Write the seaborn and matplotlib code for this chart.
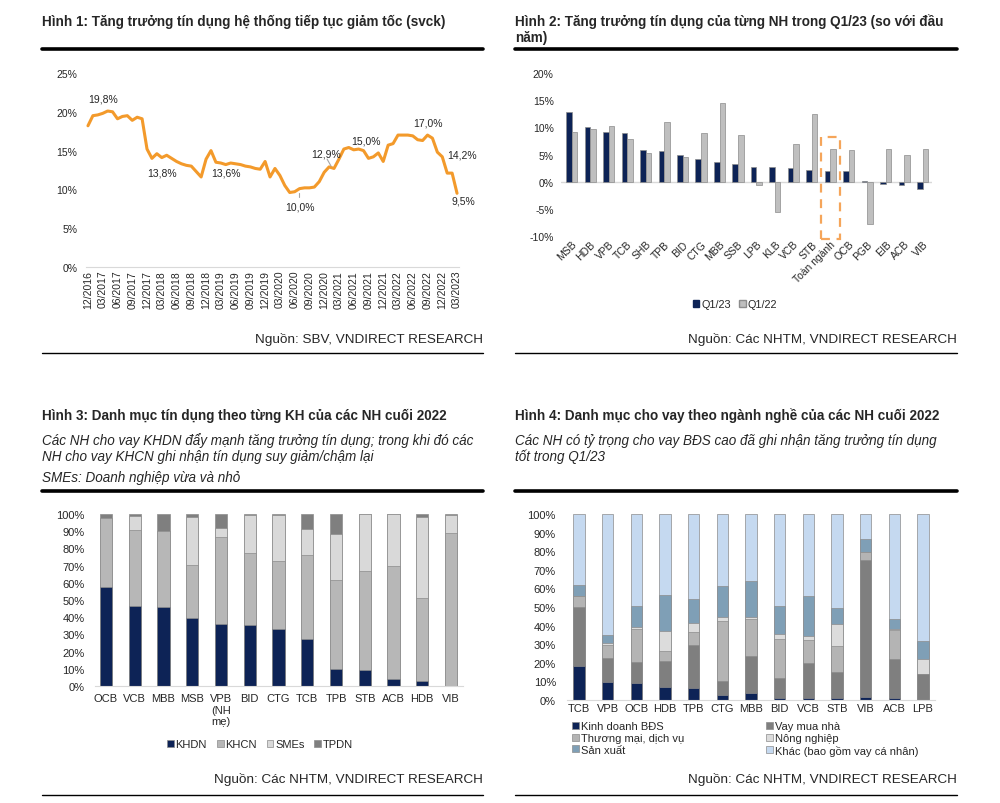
import numpy as np
import pandas as pd
import matplotlib
matplotlib.use("Agg")
import matplotlib.pyplot as plt
import seaborn as sns
from matplotlib.patches import Patch, Rectangle
from matplotlib.lines import Line2D

sns.set_style("white")
plt.rcParams["font.family"] = ["Liberation Sans", "DejaVu Sans"]

# ---- data: Hinh 1 (monthly, 12/2016 .. 03/2023)
credit_growth = [
    18.2,
    19.5, 19.6, 19.8, 20.1, 20.0, 19.1, 19.4, 19.5, 18.9, 19.3, 19.1, 15.2,
    14.0, 14.6, 14.1, 14.4, 14.0, 13.6, 13.3, 13.1, 13.0, 12.3, 11.6, 13.9,
    15.0, 13.5, 13.4, 13.2, 13.4, 13.3, 13.2, 13.0, 12.9, 12.7, 12.6, 13.6,
    11.6, 12.7, 11.8, 10.5, 9.6, 9.7, 10.1, 10.2, 10.2, 10.3, 11.0, 12.2,
    12.9, 12.7, 13.9, 15.2, 15.4, 15.1, 15.2, 15.0, 14.0, 14.2, 14.7, 13.6,
    15.7, 15.9, 17.0, 17.0, 17.0, 16.9, 16.4, 16.3, 17.0, 16.6, 14.8, 14.2,
    12.1, 12.1, 9.5,
]
month_labels = []
for i in range(len(credit_growth)):
    m = (12 + i - 1) % 12 + 1
    y = 2016 + (12 + i - 1) // 12
    month_labels.append(f"{m:02d}/{y}")
point_labels = ["19,8%", "13,8%", "13,6%", "10,0%", "12,9%", "15,0%", "17,0%", "14,2%", "9,5%"]
label_pos = [(3.0, 21.7), (15.1, 12.2), (28.0, 12.2), (43.0, 7.85), (48.4, 14.6),
             (56.5, 16.3), (69.1, 18.65), (76.0, 14.5), (76.2, 8.6)]

# ---- data: Hinh 2
banks2 = ["MSB", "HDB", "VPB", "TCB", "SHB", "TPB", "BID", "CTG", "MBB", "SSB", "LPB",
          "KLB", "VCB", "STB", "Toàn ngành", "OCB", "PGB", "EIB", "ACB", "VIB"]
q1_23 = [12.9, 10.1, 9.2, 8.9, 5.8, 5.7, 4.9, 4.1, 3.7, 3.2, 2.7, 2.7, 2.5, 2.1, 2.0, 2.0, 0.2, -0.4, -0.6, -1.3]
q1_22 = [9.2, 9.7, 10.2, 7.9, 5.3, 11.0, 4.6, 9.0, 14.4, 8.6, -0.6, -5.5, 6.9, 12.4, 6.0, 5.8, -7.7, 6.0, 5.0, 6.1]

# ---- data: Hinh 3
banks3 = ["OCB", "VCB", "MBB", "MSB", "VPB\n(NH\nmẹ)", "BID", "CTG", "TCB", "TPB", "STB", "ACB", "HDB", "VIB"]
khdn = [57.5, 46.8, 45.8, 39.8, 36.0, 35.2, 33.1, 27.1, 9.9, 9.1, 4.1, 2.9, 0.0]
khcn = [40.0, 44.1, 44.5, 30.6, 50.5, 42.0, 39.4, 49.1, 51.6, 57.6, 65.9, 48.2, 89.2]
smes = [0.0, 8.1, 0.0, 28.1, 5.4, 22.2, 27.1, 15.1, 26.7, 33.3, 30.0, 47.2, 10.2]
tpdn = [2.5, 1.0, 9.7, 1.5, 8.1, 0.6, 0.4, 8.7, 11.8, 0.0, 0.0, 1.7, 0.6]

# ---- data: Hinh 4
banks4 = ["TCB", "VPB", "OCB", "HDB", "TPB", "CTG", "MBB", "BID", "VCB", "STB", "VIB", "ACB", "LPB"]
bds = [18.1, 9.9, 9.3, 7.2, 6.5, 2.9, 3.9, 1.1, 0.9, 1.1, 1.6, 0.9, 0.0]
vay_nha = [32.1, 12.5, 11.1, 13.6, 23.2, 7.1, 19.6, 10.5, 19.0, 14.1, 73.5, 21.0, 14.2]
tmdv = [5.5, 7.2, 17.8, 5.4, 6.7, 32.3, 20.0, 21.2, 12.2, 13.7, 4.6, 15.9, 0.0]
nong_nghiep = [0.4, 0.9, 1.0, 11.1, 5.2, 2.3, 0.9, 2.5, 2.5, 12.0, 0.0, 0.4, 7.8]
san_xuat = [5.9, 4.4, 11.3, 19.0, 12.5, 16.5, 19.4, 15.2, 21.3, 8.6, 6.7, 5.3, 9.9]
khac = [38.0, 65.1, 49.5, 43.7, 45.9, 38.9, 36.2, 49.5, 44.1, 50.5, 13.6, 56.5, 68.1]

NAVY = "#0d2356"
TXT = "#262626"
W, H = 1000, 804


def rect(l, t, r, b):
    return [l / W, 1 - b / H, (r - l) / W, (b - t) / H]


def style_axes(ax, size=7.5):
    for s in ["top", "right", "left"]:
        ax.spines[s].set_visible(False)
    ax.spines["bottom"].set_color("#d9d9d9")
    ax.tick_params(axis="both", length=0, labelsize=size, colors=TXT, pad=2)
    ax.set_xlabel("")
    ax.set_ylabel("")


def stacked(ax, banks, layers, colors, width):
    # draw cumulative totals from the top layer down so each segment shows
    df = pd.DataFrame({"bank": banks})
    cum = np.cumsum(np.array(layers), axis=0)
    for k in range(len(layers) - 1, -1, -1):
        df["v"] = cum[k]
        sns.barplot(data=df, x="bank", y="v", order=banks, color=colors[k], saturation=1,
                    width=width, edgecolor="#8c8c8c", linewidth=0.5, ax=ax)


fig = plt.figure(figsize=(W / 100, H / 100), dpi=100)

# header / footer decorations
for x0, x1 in [(42, 483), (515, 957)]:
    fig.add_artist(Line2D([x0 / W, x1 / W], [1 - 50 / H] * 2, color="black", lw=2.6))
    fig.add_artist(Line2D([x0 / W, x1 / W], [1 - 492 / H] * 2, color="black", lw=2.6))
    fig.add_artist(Line2D([x0 / W, x1 / W], [1 - 354 / H] * 2, color="black", lw=1.0))
    fig.add_artist(Line2D([x0 / W, x1 / W], [1 - 796 / H] * 2, color="black", lw=1.0))
    fig.text(x1 / W, 1 - 340 / H, "Nguồn: " + ("SBV" if x0 == 42 else "Các NHTM") + ", VNDIRECT RESEARCH",
             ha="right", va="center", fontsize=9.7, color=TXT)
    fig.text(x1 / W, 1 - 780 / H, "Nguồn: Các NHTM, VNDIRECT RESEARCH",
             ha="right", va="center", fontsize=9.7, color=TXT)

TS = 9.75
fig.text(42 / W, 1 - 22 / H, "Hình 1: Tăng trưởng tín dụng hệ thống tiếp tục giảm tốc (svck)",
         fontsize=TS, fontweight="bold", va="center", color=TXT)
fig.text(515 / W, 1 - 22 / H, "Hình 2: Tăng trưởng tín dụng của từng NH trong Q1/23 (so với đầu",
         fontsize=TS, fontweight="bold", va="center", color=TXT)
fig.text(515 / W, 1 - 38 / H, "năm)", fontsize=TS, fontweight="bold", va="center", color=TXT)
fig.text(42 / W, 1 - 416 / H, "Hình 3: Danh mục tín dụng theo từng KH của các NH cuối 2022",
         fontsize=TS, fontweight="bold", va="center", color=TXT)
fig.text(42 / W, 1 - 441 / H, "Các NH cho vay KHDN đẩy mạnh tăng trưởng tín dụng; trong khi đó các",
         fontsize=TS, style="italic", va="center", color=TXT)
fig.text(42 / W, 1 - 457 / H, "NH cho vay KHCN ghi nhận tín dụng suy giảm/chậm lại",
         fontsize=TS, style="italic", va="center", color=TXT)
fig.text(42 / W, 1 - 478 / H, "SMEs: Doanh nghiệp vừa và nhỏ",
         fontsize=TS, style="italic", va="center", color=TXT)
fig.text(515 / W, 1 - 416 / H, "Hình 4: Danh mục cho vay theo ngành nghề của các NH cuối 2022",
         fontsize=TS, fontweight="bold", va="center", color=TXT)
fig.text(515 / W, 1 - 441 / H, "Các NH có tỷ trọng cho vay BĐS cao đã ghi nhận tăng trưởng tín dụng",
         fontsize=TS, style="italic", va="center", color=TXT)
fig.text(515 / W, 1 - 457 / H, "tốt trong Q1/23",
         fontsize=TS, style="italic", va="center", color=TXT)

# ---- Hinh 1
ax1 = fig.add_axes(rect(85.5, 74, 459.5, 268))
df1 = pd.DataFrame({"t": np.arange(len(credit_growth)), "v": credit_growth})
sns.lineplot(data=df1, x="t", y="v", color="#f39a2b", lw=2.2, ax=ax1)
ax1.set_xlim(-0.5, len(credit_growth) - 0.5)
ax1.set_ylim(0, 25)
ax1.set_yticks(range(0, 26, 5))
ax1.set_yticklabels([f"{v}%" for v in range(0, 26, 5)])
ax1.set_xticks(range(0, len(credit_growth), 3))
ax1.set_xticklabels(month_labels[::3], rotation=90)
style_axes(ax1)
ax1.tick_params(axis="y", pad=6)
for txt, (x, y) in zip(point_labels, label_pos):
    ax1.text(x, y, txt, ha="center", va="center", fontsize=7.5, color=TXT, clip_on=False)
ax1.plot([42.8, 42.8], [9.0, 9.6], color="#a6a6a6", lw=0.8)
ax1.plot([48.6, 49.4], [13.9, 13.0], color="#a6a6a6", lw=0.8)

# ---- Hinh 2
ax2 = fig.add_axes(rect(560.6, 74, 932, 237))
df2 = pd.DataFrame({
    "bank": banks2 * 2,
    "period": ["Q1/23"] * len(banks2) + ["Q1/22"] * len(banks2),
    "v": q1_23 + q1_22,
})
sns.barplot(data=df2, x="bank", y="v", hue="period", order=banks2, hue_order=["Q1/23", "Q1/22"],
            palette=[NAVY, "#bfbfbf"], saturation=1, width=0.6, edgecolor="#8c8c8c", linewidth=0.5,
            legend=False, ax=ax2)
ax2.axhline(0, color="#d9d9d9", lw=1, zorder=0)
ax2.set_ylim(-10, 20)
ax2.set_xlim(-0.6, len(banks2) - 0.5)
ax2.set_yticks(range(-10, 21, 5))
ax2.set_yticklabels([f"{v}%" for v in range(-10, 21, 5)])
style_axes(ax2)
ax2.spines["bottom"].set_visible(False)
ax2.set_xticks(range(len(banks2)))
ax2.set_xticklabels(banks2, rotation=45, ha="right", rotation_mode="anchor")
ax2.tick_params(axis="y", pad=5)
ax2.add_patch(Rectangle((13.51, -10.6), 0.99, 18.9, fill=False, ls=(0, (4, 3)),
                        ec="#f5a55a", lw=1.6, clip_on=False))
ax2.legend(handles=[Patch(fc=NAVY, ec=NAVY), Patch(fc="#bfbfbf", ec="#8c8c8c")],
           labels=["Q1/23", "Q1/22"], ncol=2, frameon=False, fontsize=7.8,
           handlelength=0.6, handleheight=0.6, handletextpad=0.15, columnspacing=0.8,
           loc="center", bbox_to_anchor=((735 - 560.6) / (932 - 560.6), -(305 - 237) / (237 - 74)))

# ---- Hinh 3
ax3 = fig.add_axes(rect(94.5, 515, 462.5, 687))
colors3 = [NAVY, "#b7b7b7", "#d9d9d9", "#7f7f7f"]
stacked(ax3, banks3, [khdn, khcn, smes, tpdn], colors3, 0.42)
ax3.set_ylim(0, 100)
ax3.set_xlim(-0.4, len(banks3) - 0.6)
ax3.set_yticks(range(0, 101, 10))
ax3.set_yticklabels([f"{v}%" for v in range(0, 101, 10)])
style_axes(ax3, 8)
ax3.tick_params(axis="x", pad=5)
ax3.tick_params(axis="y", pad=7)
ax3.legend(handles=[Patch(fc=c, ec="#8c8c8c", lw=0.5) for c in colors3],
           labels=["KHDN", "KHCN", "SMEs", "TPDN"], ncol=4, frameon=False, fontsize=8,
           handlelength=0.6, handleheight=0.6, handletextpad=0.15, columnspacing=0.9,
           loc="center", bbox_to_anchor=((260 - 94.5) / (462.5 - 94.5), -(745 - 687) / (687 - 515)))

# ---- Hinh 4
ax4 = fig.add_axes(rect(567, 515, 935, 701))
colors4 = [NAVY, "#7f7f7f", "#b4b4b4", "#dcdcdc", "#7f9fb6", "#c5d9f0"]
names4 = ["Kinh doanh BĐS", "Vay mua nhà", "Thương mại, dịch vụ", "Nông nghiệp", "Sản xuất",
          "Khác (bao gồm vay cá nhân)"]
stacked(ax4, banks4, [bds, vay_nha, tmdv, nong_nghiep, san_xuat, khac], colors4, 0.39)
ax4.set_ylim(0, 100)
ax4.set_xlim(-0.42, len(banks4) - 0.58)
ax4.set_yticks(range(0, 101, 10))
ax4.set_yticklabels([f"{v}%" for v in range(0, 101, 10)])
style_axes(ax4, 8)
ax4.tick_params(axis="y", pad=8)
order = [0, 2, 4, 1, 3, 5]
ax4.legend(handles=[Patch(fc=colors4[i], ec="#8c8c8c", lw=0.5) for i in order],
           labels=[names4[i] for i in order], ncol=2, frameon=False, fontsize=8,
           handlelength=0.6, handleheight=0.6, handletextpad=0.2, columnspacing=7.35,
           labelspacing=0.15, loc="upper left",
           bbox_to_anchor=((568 - 567) / (935 - 567), -(718 - 701) / (701 - 515)), borderaxespad=0)

fig.savefig("out.png", dpi=100)
